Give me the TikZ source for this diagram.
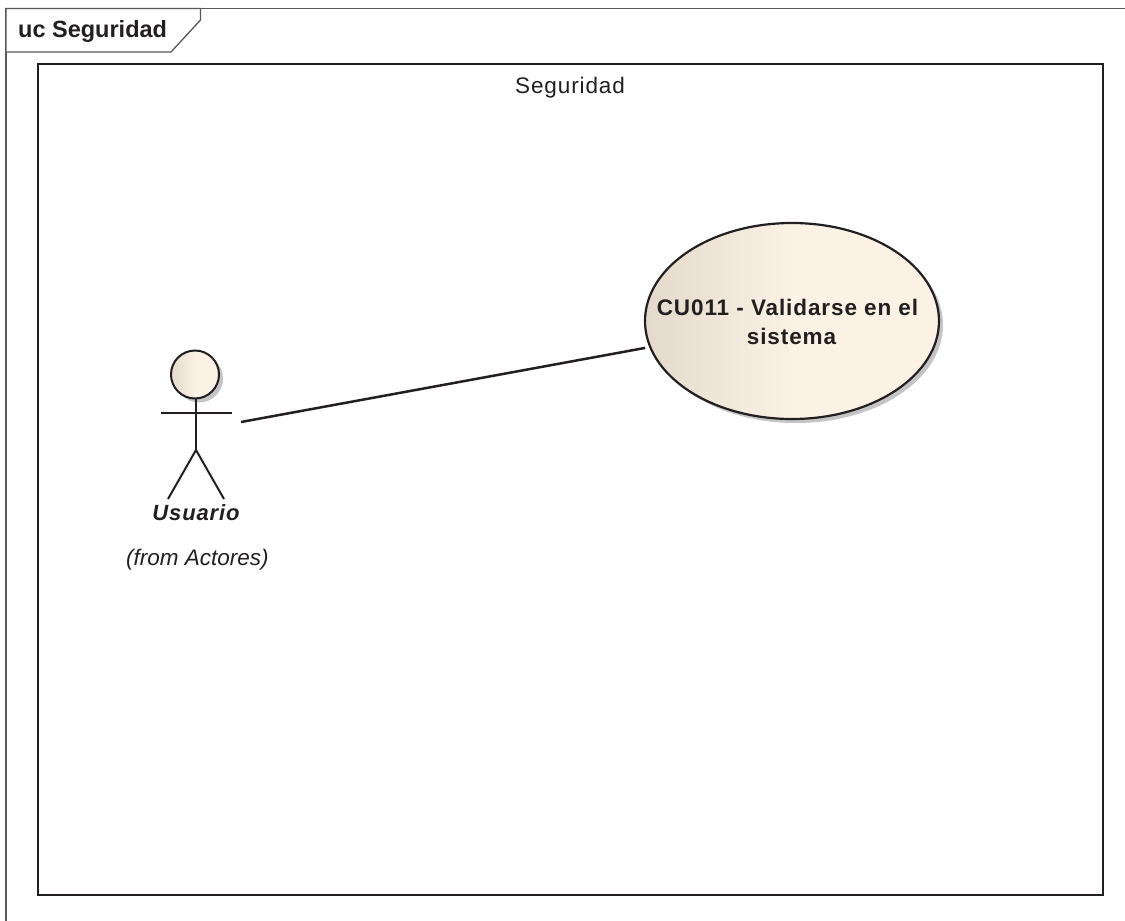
\documentclass[tikz,border=0pt]{standalone}
\usepackage{fontspec}
\setmainfont{Liberation Sans}
\newfontfamily\spaced[LetterSpace=4]{Liberation Sans}
\usetikzlibrary{shapes.geometric,shadows}
\definecolor{ink}{HTML}{231F20}
\definecolor{frameink}{HTML}{58585A}
\definecolor{shadowgray}{HTML}{C4C4C6}
\definecolor{creamD}{HTML}{E3D9CC}
\definecolor{creamL}{HTML}{FBF1E4}
\pgfdeclarehorizontalshading{cream}{100bp}{color(0bp)=(creamD);color(25bp)=(creamD);color(50bp)=(creamL);color(100bp)=(creamL)}
\tikzset{
 frameline/.style={draw=frameink,line width=1.3pt},
 sysline/.style={draw=ink,line width=2.4pt},
 figline/.style={draw=ink,line width=2pt},
 usecase/.style={ellipse,draw=ink,line width=2.2pt,inner sep=0pt,minimum width=294pt,minimum height=196pt,
   shade,shading=cream,drop shadow={shadow xshift=4pt,shadow yshift=-4pt,fill=shadowgray,opacity=1}},
 head/.style={circle,draw=ink,line width=2pt,inner sep=0pt,minimum size=48pt,shade,shading=cream,
   drop shadow={shadow xshift=4pt,shadow yshift=-4pt,fill=shadowgray,opacity=1}},
 label/.style={inner sep=0pt,text=ink,anchor=base},
}
\begin{document}
\begin{tikzpicture}[x=1pt,y=-1pt]
\useasboundingbox (0,0) rectangle (1125,921);
\fill[white] (0,0) rectangle (1125,921);
\draw[frameline] (6,921) -- (6,8.5) -- (1125,8.5);
\draw[frameline,fill=white] (6,8.5) -- (200.5,8.5) -- (200.5,20) -- (171,52) -- (6,52) -- cycle;
\node[label,anchor=base west,font=\bfseries\fontsize{23.5}{23.5}\selectfont] (frametitle) at (18,37) {uc Seguridad};
\node[sysline,rectangle,inner sep=0pt,minimum width=1065pt,minimum height=831pt] (system) at (570.5,479.5) {};
\node[label,font=\spaced\fontsize{22.5}{22.5}\selectfont] (systitle) at (570,93) {Seguridad};
\node[usecase] (uc) at (792,321) {};
\node[label,font=\spaced\bfseries\fontsize{22.5}{22.5}\selectfont] (ucline1) at (787.5,315) {CU011 - Validarse en el};
\node[label,font=\spaced\bfseries\fontsize{22.5}{22.5}\selectfont] (ucline2) at (791.5,344) {sistema};
\node[head] (actorhead) at (195,374.5) {};
\coordinate (neck) at (196,399);
\coordinate (hip) at (196,450);
\coordinate (armL) at (161,412.7);
\coordinate (armR) at (231.5,412.7);
\coordinate (legL) at (168,499);
\coordinate (legR) at (224,499);
\coordinate (port) at (241,422);
\draw[figline] (neck) -- (hip);
\draw[figline] (armL) -- (armR);
\draw[figline] (legL) -- (hip) -- (legR);
\node[label,font=\itshape\bfseries\spaced\fontsize{22}{22}\selectfont] (actorname) at (196,520) {Usuario};
\node[label,font=\itshape\fontsize{22.5}{22.5}\selectfont] (actorfrom) at (197.5,565) {(from Actores)};
\draw[ink,line width=2.5pt,shorten >=4pt] (port) -- (uc);
\end{tikzpicture}
\end{document}
